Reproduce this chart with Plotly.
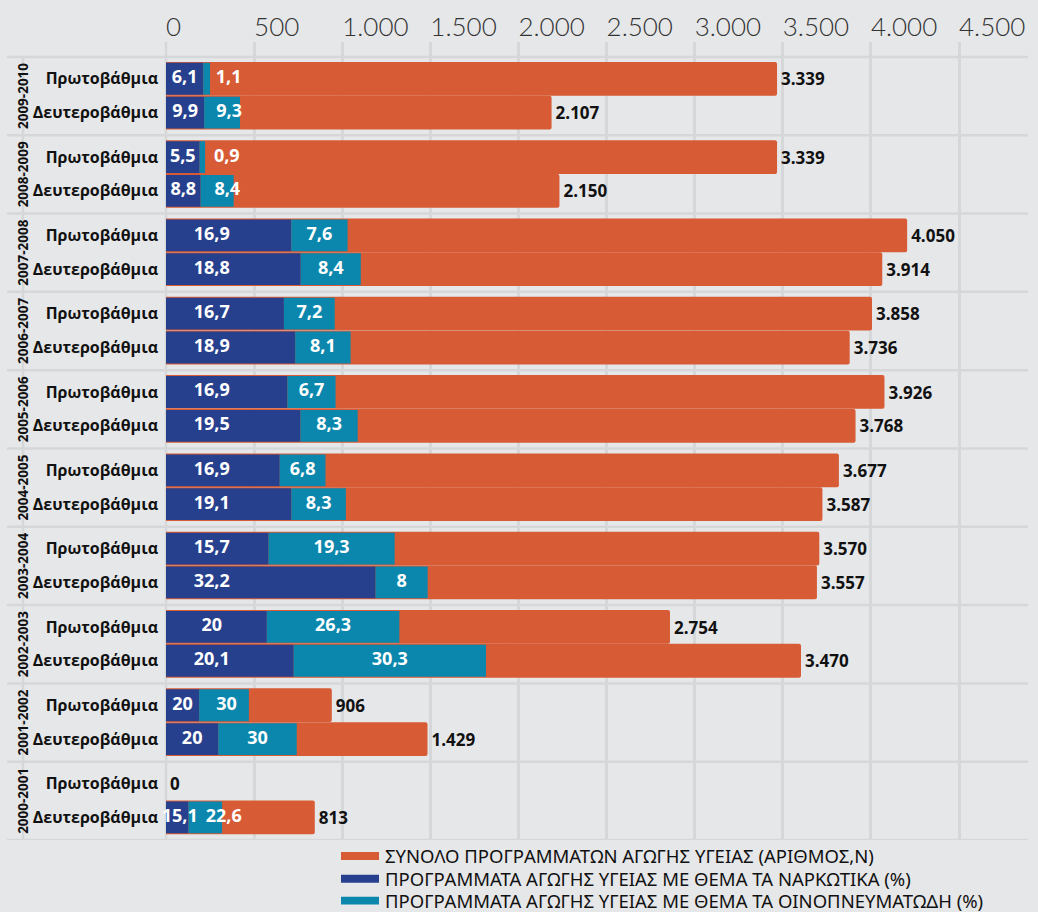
import plotly.graph_objects as go

# ---------------- data ----------------
years = ["2009-2010", "2008-2009", "2007-2008", "2006-2007", "2005-2006",
         "2004-2005", "2003-2004", "2002-2003", "2001-2002", "2000-2001"]
levels = ["Πρωτοβάθμια", "Δευτεροβάθμια"]

total_prim = [3339, 3339, 4050, 3858, 3926, 3677, 3570, 2754, 906, 0]
total_sec = [2107, 2150, 3914, 3736, 3768, 3587, 3557, 3470, 1429, 813]
drug_prim = [6.1, 5.5, 16.9, 16.7, 16.9, 16.9, 15.7, 20, 20, None]
drug_sec = [9.9, 8.8, 18.8, 18.9, 19.5, 19.1, 32.2, 20.1, 20, 15.1]
alc_prim = [1.1, 0.9, 7.6, 7.2, 6.7, 6.8, 19.3, 26.3, 30, None]
alc_sec = [9.3, 8.4, 8.4, 8.1, 8.3, 8.3, 8, 30.3, 30, 22.6]

axis_ticks = [0, 500, 1000, 1500, 2000, 2500, 3000, 3500, 4000, 4500]

legend_names = [
    "ΣΥΝΟΛΟ ΠΡΟΓΡΑΜΜΑΤΩΝ ΑΓΩΓΗΣ ΥΓΕΙΑΣ (ΑΡΙΘΜΟΣ,Ν)",
    "ΠΡΟΓΡΑΜΜΑΤΑ ΑΓΩΓΗΣ ΥΓΕΙΑΣ ΜΕ ΘΕΜΑ ΤΑ ΝΑΡΚΩΤΙΚΑ (%)",
    "ΠΡΟΓΡΑΜΜΑΤΑ ΑΓΩΓΗΣ ΥΓΕΙΑΣ ΜΕ ΘΕΜΑ ΤΑ ΟΙΝΟΠΝΕΥΜΑΤΩΔΗ (%)",
]

# ---------------- style ----------------
BG = "#e6e7e9"
GRID = "#d6d7d9"
ORANGE = "#d75b35"
NAVY = "#26408e"
TEAL = "#0b87ad"
COLORS = [ORANGE, NAVY, TEAL]
BOLD = "Open Sans"

W, H = 1038, 912
ML, MR, MT, MB = 166, 10, 37, 72
PW = W - ML - MR
PH = H - MT - MB
BAR_SCALE = 0.183          # px per unit for bars
TICK_SCALE = 793 / 4500    # px per unit for the printed tick axis
ROW_OFF = [0.279, 0.711]
TOP_PAD = 15 / 78.8
LABEL_GAP = 44 / BAR_SCALE   # min distance between the two in-bar labels


def px_x(px):
    return (px - ML) / PW


def px_y(py):
    return (H - MB - py) / PH


def fmt_int(v):
    return f"{v:,}".replace(",", ".")


def fmt_pct(v):
    s = f"{v:g}"
    return s.replace(".", ",")


# ---------------- build rows ----------------
ys, totals, blues, teals = [], [], [], []
for g in range(len(years)):
    for k, (tot, d, a) in enumerate([(total_prim[g], drug_prim[g], alc_prim[g]),
                                     (total_sec[g], drug_sec[g], alc_sec[g])]):
        ys.append(g + ROW_OFF[k])
        totals.append(tot)
        blues.append(None if d is None else tot * d / 100)
        teals.append(None if a is None else tot * a / 100)

pcts_d = [d for pair in zip(drug_prim, drug_sec) for d in pair]
pcts_a = [a for pair in zip(alc_prim, alc_sec) for a in pair]

fig = go.Figure()

fig.add_trace(go.Bar(
    y=ys, x=totals, orientation="h", width=0.431, name=legend_names[0],
    marker=dict(color=ORANGE, line=dict(width=0), cornerradius=2),
    showlegend=False, hoverinfo="skip"))
fig.add_trace(go.Bar(
    y=ys, x=blues, orientation="h", width=0.406, name=legend_names[1],
    marker=dict(color=NAVY, line=dict(width=0)),
    showlegend=False, hoverinfo="skip"))
fig.add_trace(go.Bar(
    y=ys, x=teals, base=[b if b is not None else 0 for b in blues],
    orientation="h", width=0.406, name=legend_names[2],
    marker=dict(color=TEAL, line=dict(width=0)),
    showlegend=False, hoverinfo="skip"))

# in-bar labels
bx, by, bt, cx, cy, ct = [], [], [], [], [], []
for y, b, t, pd_, pa in zip(ys, blues, teals, pcts_d, pcts_a):
    if b is None:
        continue
    blab = min(max(b / 2, 75), 250)
    bx.append(blab)
    by.append(y)
    bt.append(fmt_pct(pd_))
    cx.append(max(b + t / 2, blab + LABEL_GAP))
    cy.append(y)
    ct.append(fmt_pct(pa))

fig.add_trace(go.Scatter(
    x=bx, y=by, text=bt, mode="text", textposition="middle center",
    textfont=dict(family=BOLD, size=18, color="white", weight="bold"),
    showlegend=False, hoverinfo="skip", cliponaxis=False))
fig.add_trace(go.Scatter(
    x=cx, y=cy, text=ct, mode="text", textposition="middle center",
    textfont=dict(family=BOLD, size=18, color="white", weight="bold"),
    showlegend=False, hoverinfo="skip", cliponaxis=False))

# total labels
fig.add_trace(go.Scatter(
    x=[v + 4 / BAR_SCALE for v in totals], y=[y + 0.03 for y in ys],
    text=[fmt_int(v) for v in totals],
    mode="text", textposition="middle right",
    textfont=dict(family=BOLD, size=17, color="#111111", weight="bold"),
    showlegend=False, hoverinfo="skip", cliponaxis=False))

# trace anchoring the printed tick axis
fig.add_trace(go.Scatter(
    x=[axis_ticks[0], axis_ticks[-1]], y=[0, 0], xaxis="x2", mode="markers",
    marker=dict(opacity=0), showlegend=False, hoverinfo="skip"))

# separators and frame lines
shapes = []
for g in range(len(years) + 1):
    shapes.append(dict(type="line", xref="paper", yref="y",
                       x0=px_x(7), x1=1.0, y0=g, y1=g,
                       line=dict(color=GRID, width=2.5), layer="below"))
shapes.append(dict(type="line", xref="paper", yref="y",
                   x0=px_x(23), x1=px_x(23), y0=0, y1=len(years),
                   line=dict(color=GRID, width=2.5), layer="below"))
shapes.append(dict(type="line", xref="paper", yref="paper",
                   x0=0, x1=0, y0=0, y1=1,
                   line=dict(color=GRID, width=2.5), layer="below"))

annotations = []
for g, yr in enumerate(years):
    annotations.append(dict(
        x=px_x(12), xref="paper", y=g + 0.5, yref="y",
        text=yr, textangle=-90, showarrow=False,
        font=dict(family=BOLD, size=13.5, color="#111111", weight="bold")))

# legend (drawn as key swatches + texts below the plot)
LEG_ROWS = [856, 879, 901]
for name, col, ry in zip(legend_names, COLORS, LEG_ROWS):
    shapes.append(dict(type="rect", xref="paper", yref="paper",
                       x0=px_x(341), x1=px_x(379),
                       y0=px_y(ry + 4), y1=px_y(ry - 4),
                       fillcolor=col, line=dict(width=0)))
    annotations.append(dict(
        x=px_x(384), xref="paper", y=px_y(ry), yref="paper",
        xanchor="left", yanchor="middle", text=name, showarrow=False,
        borderpad=0,
        font=dict(family="Noto Sans", size=18.5, color="#111111")))

tickvals_y = [g + off for g in range(len(years)) for off in ROW_OFF]
ticktext_y = [lv for g in range(len(years)) for lv in levels]

fig.update_layout(
    width=W, height=H,
    paper_bgcolor=BG, plot_bgcolor=BG,
    margin=dict(l=ML, r=MR, t=MT, b=MB, pad=0),
    barmode="overlay",
    showlegend=False,
    xaxis=dict(range=[0, PW / BAR_SCALE], showgrid=False, zeroline=False,
               showticklabels=False, ticks="", showline=False, fixedrange=True),
    xaxis2=dict(range=[0, PW / TICK_SCALE], overlaying="x", side="top",
                tickvals=axis_ticks, ticktext=[fmt_int(v) for v in axis_ticks],
                ticklabelposition="outside right",
                tickfont=dict(family="Lato", size=26, color="#333333", weight=300),
                showgrid=True, gridcolor=GRID, gridwidth=2.5,
                zeroline=False, ticks="", showline=False),
    yaxis=dict(range=[len(years), -TOP_PAD], tickvals=tickvals_y,
               ticktext=ticktext_y, showgrid=False, zeroline=False,
               ticks="", ticklabelstandoff=7,
               tickfont=dict(family=BOLD, size=16, color="#111111", weight="bold")),
    shapes=shapes,
    annotations=annotations,
)

fig.write_html("out.html",
               config={"displayModeBar": False},
               post_script="document.body.style.margin='0';"
                           "document.body.style.overflow='hidden';")
